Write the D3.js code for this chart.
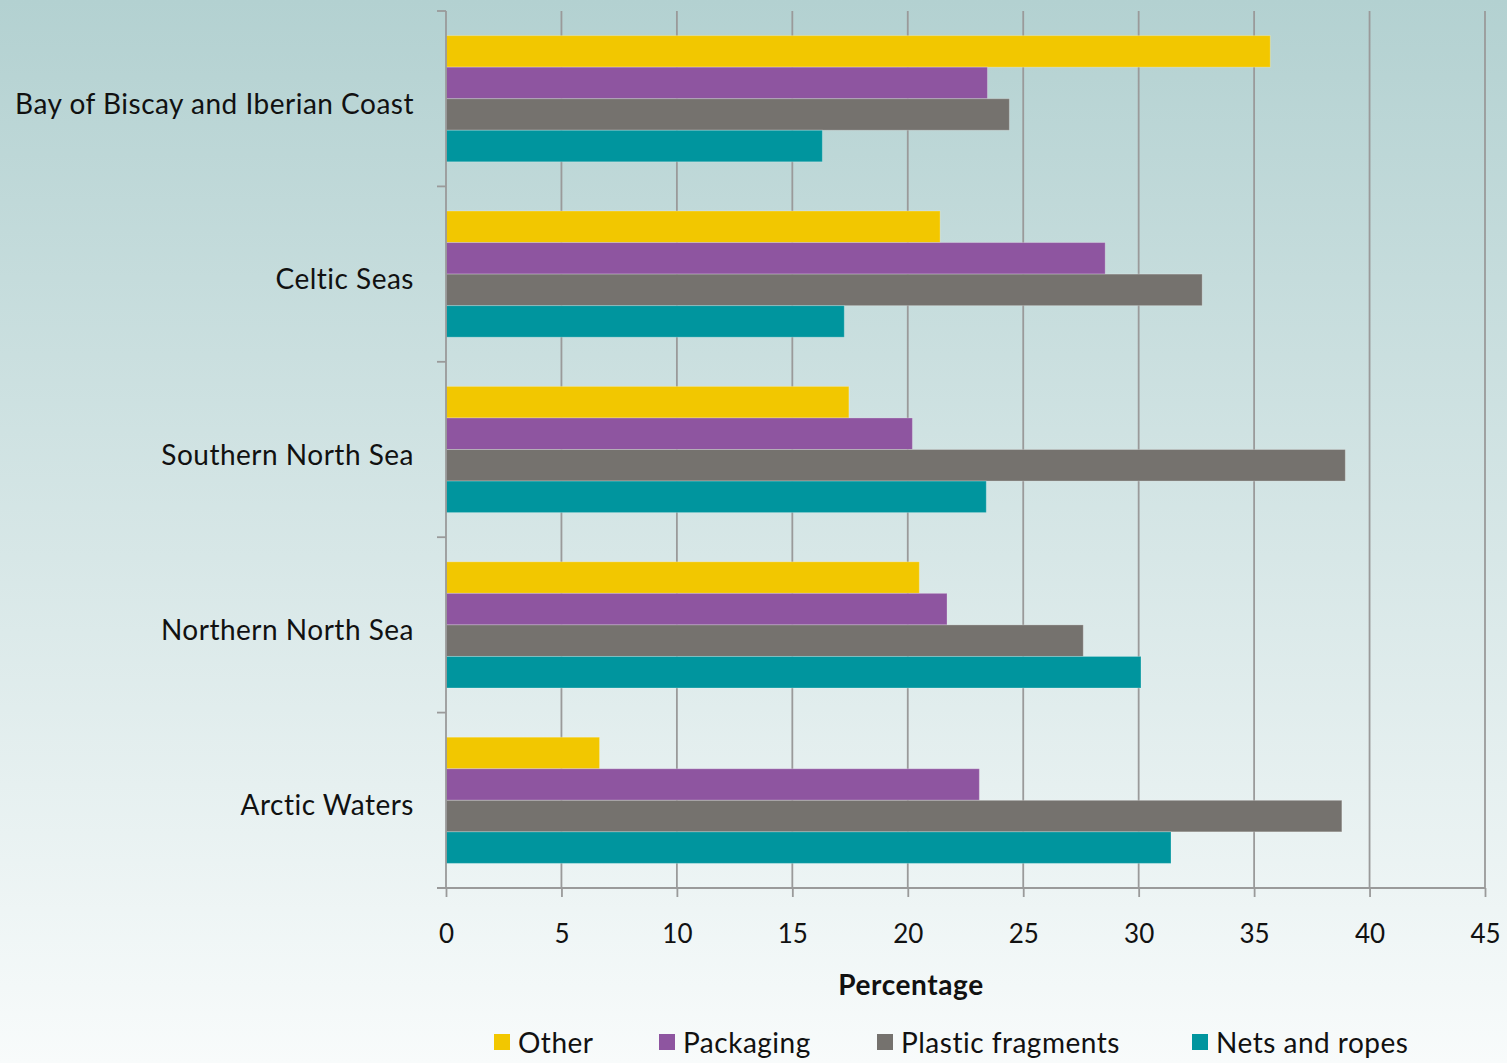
<!DOCTYPE html>
<html><head><meta charset="utf-8">
<script src="https://cdn.jsdelivr.net/npm/d3@7"></script>
<style>html,body{margin:0;padding:0;overflow:hidden;}svg{display:block;}</style>
</head><body>
<svg id="chart" width="1507" height="1063"></svg>
<script>
const categories = ["Bay of Biscay and Iberian Coast","Celtic Seas","Southern North Sea","Northern North Sea","Arctic Waters"];
const seriesNames = ["Other","Packaging","Plastic fragments","Nets and ropes"];
const seriesColors = ["#f2c700","#8e55a0","#75726e","#00959e"];
const other     = [35.7, 21.4, 17.45, 20.5, 6.65];
const packaging = [23.45, 28.55, 20.2, 21.7, 23.1];
const plastic   = [24.4, 32.75, 38.95, 27.6, 38.8];
const nets      = [16.3, 17.25, 23.4, 30.1, 31.4];
const xTicks = [0,5,10,15,20,25,30,35,40,45];
const xTitle = "Percentage";

const seriesValues = [other, packaging, plastic, nets];
const font = "Lato, 'Open Sans', sans-serif";
const W = 1507, H = 1063;
const svg = d3.select("#chart");

// background gradient
const defs = svg.append("defs");
const grad = defs.append("linearGradient").attr("id","bg").attr("x1",0).attr("y1",0).attr("x2",0).attr("y2",1);
grad.append("stop").attr("offset","0%").attr("stop-color","#b3d1d1");
grad.append("stop").attr("offset","100%").attr("stop-color","#f8fbfb");
svg.append("rect").attr("width",W).attr("height",H).attr("fill","url(#bg)");

const x = d3.scaleLinear().domain([0,45]).range([446,1485]);
const y = d3.scaleBand().domain(categories).range([11,888]).paddingInner(0).paddingOuter(0);
const ySub = d3.scaleBand().domain(seriesNames).range([0,y.bandwidth()]).paddingInner(0).paddingOuter(0.78);

const gridColor = "#9a9a9a";
// vertical gridlines
svg.append("g").selectAll("line").data(xTicks.slice(1)).join("line")
  .attr("x1",d=>x(d)).attr("x2",d=>x(d)).attr("y1",11).attr("y2",888)
  .attr("stroke",gridColor).attr("stroke-width",1.8);

// bars
const data = [];
categories.forEach((c,i)=>seriesNames.forEach((s,j)=>data.push({c,s,j,v:seriesValues[j][i]})));
svg.append("g").selectAll("rect").data(data).join("rect")
  .attr("x",x(0)).attr("y",d=>y(d.c)+ySub(d.s))
  .attr("width",d=>x(d.v)-x(0)).attr("height",ySub.bandwidth())
  .attr("fill",d=>seriesColors[d.j])
  .attr("stroke","rgba(255,255,255,0.25)").attr("stroke-width",1);

// y axis
const yAxisG = svg.append("g");
yAxisG.append("line").attr("x1",446).attr("x2",446).attr("y1",11).attr("y2",888).attr("stroke",gridColor).attr("stroke-width",1.8);
const yBounds = categories.map(c=>y(c)).concat([888]);
yAxisG.selectAll("line.t").data(yBounds).join("line").attr("class","t")
  .attr("x1",437).attr("x2",446).attr("y1",d=>d).attr("y2",d=>d).attr("stroke",gridColor).attr("stroke-width",1.8);
yAxisG.selectAll("text").data(categories).join("text")
  .attr("x",414).attr("y",d=>y(d)+y.bandwidth()/2+8)
  .attr("text-anchor","end").attr("dominant-baseline","middle")
  .attr("font-family",font).attr("font-size",28).attr("letter-spacing",0.5).attr("fill","#111").text(d=>d);

// x axis
const xAxis = d3.axisBottom(x).tickValues(xTicks).tickSize(9).tickPadding(28).tickFormat(d3.format("d"));
const xg = svg.append("g").attr("transform","translate(0,888)").call(xAxis);
xg.select(".domain").attr("stroke",gridColor).attr("stroke-width",1.8).attr("d","M437,0H1485");
xg.selectAll(".tick line").attr("stroke",gridColor).attr("stroke-width",1.8);
xg.selectAll(".tick text").attr("font-family",font).attr("font-size",26).attr("fill","#111");

svg.append("text").attr("x",911).attr("y",995).attr("text-anchor","middle")
  .attr("font-family",font).attr("font-size",28).attr("letter-spacing",0.6).attr("font-weight","bold").attr("fill","#111").text(xTitle);

// legend
const legendX = [494,659,877,1192];
const lg = svg.append("g").selectAll("g").data(seriesNames).join("g")
  .attr("transform",(d,i)=>`translate(${legendX[i]},1034)`);
lg.append("rect").attr("width",16).attr("height",16).attr("fill",(d,i)=>seriesColors[i]);
lg.append("text").attr("x",24).attr("y",19).attr("font-family",font).attr("font-size",28).attr("letter-spacing",0.5).attr("fill","#111").text(d=>d);
</script>
</body></html>
